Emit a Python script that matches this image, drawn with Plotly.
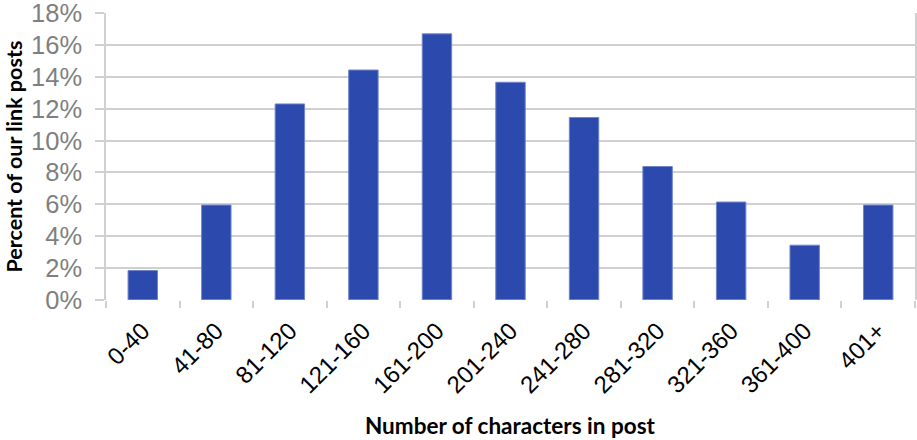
import plotly.graph_objects as go

categories = ["0-40", "41-80", "81-120", "121-160", "161-200", "201-240",
              "241-280", "281-320", "321-360", "361-400", "401+"]
percent_values = [1.84, 5.95, 12.3, 14.43, 16.7, 13.66, 11.45, 8.37, 6.14, 3.43, 5.95]
y_tick_values = [0, 2, 4, 6, 8, 10, 12, 14, 16, 18]
y_tick_labels = [f"{v}%" for v in y_tick_values]
x_title = "Number of characters in post"
y_title = "Percent of our link posts"

fig = go.Figure(
    go.Bar(
        x=categories,
        y=percent_values,
        marker=dict(color="#2c49ad", line=dict(color="#6f84cc", width=1)),
        width=0.4,
    )
)

fig.update_layout(
    width=917,
    height=440,
    margin=dict(l=106, r=2, t=13, b=140),
    paper_bgcolor="white",
    plot_bgcolor="white",
    showlegend=False,
    font=dict(family="Liberation Sans"),
)

fig.update_xaxes(
    type="category",
    tickangle=-45,
    tickfont=dict(size=24, color="black", family="Liberation Sans"),
    ticks="outside",
    tickson="boundaries",
    ticklen=7,
    tickcolor="#d0d0d0",
    tickwidth=1.5,
    ticklabelstandoff=11,
    showgrid=False,
    showline=False,
    automargin=False,
)

fig.update_yaxes(
    range=[-0.01, 18.01],
    tickvals=y_tick_values,
    ticktext=y_tick_labels,
    tickfont=dict(size=25.5, color="#7f7f7f", family="Liberation Sans"),
    ticks="outside",
    ticklen=9,
    tickcolor="#d0d0d0",
    tickwidth=1.5,
    ticklabelstandoff=8,
    ticklabeloverflow="allow",
    showgrid=True,
    gridcolor="#d0d0d0",
    gridwidth=1.5,
    zeroline=False,
    showline=True,
    linecolor="#d0d0d0",
    linewidth=1.5,
    mirror=True,
    automargin=False,
)

fig.add_annotation(
    text=f"<b>{x_title}</b>", xref="paper", yref="paper", x=0.5, y=0,
    xanchor="center", yanchor="middle", yshift=-125, showarrow=False,
    font=dict(size=22.5, color="black", family="Lato"),
)
fig.add_annotation(
    text=f"<b>{y_title}</b>", xref="paper", yref="paper", x=0, y=0.5,
    xanchor="center", yanchor="middle", xshift=-93, textangle=-90, showarrow=False,
    font=dict(size=21.5, color="black", family="Lato"),
)

fig.write_html("out.html", config={"displayModeBar": False},
               post_script="document.body.style.margin='0px';")
